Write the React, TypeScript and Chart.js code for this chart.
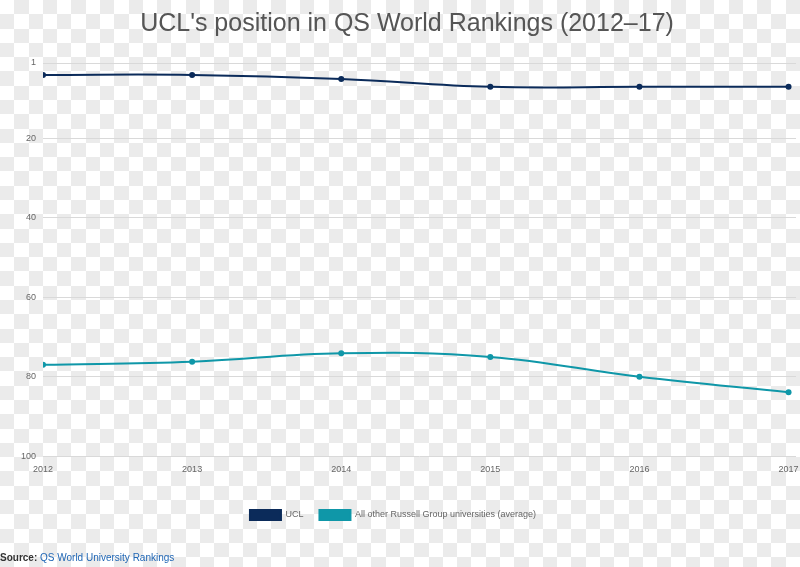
import React, { useEffect, useRef } from "react";
import { Chart, registerables } from "chart.js";

Chart.register(...registerables);

const years = [2012, 2013, 2014, 2015, 2016, 2017];
const uclRanks = [4, 4, 5, 7, 7, 7];
const russellRanks = [77, 76.2, 74.1, 75, 80, 83.9];
const yTicks = [1, 20, 40, 60, 80, 100];
const seriesNames = ["UCL", "All other Russell Group universities (average)"];
const titleText = "UCL's position in QS World Rankings (2012\u201317)";

const FONT = "'Liberation Sans', Arial, sans-serif";

const checkerPlugin = {
  id: "checker",
  beforeDraw(chart: any) {
    const { ctx, width, height } = chart;
    const cell = 800 / 56;
    ctx.save();
    ctx.fillStyle = "#ffffff";
    ctx.fillRect(0, 0, width, height);
    ctx.fillStyle = "#ebebeb";
    const cols = Math.ceil(width / cell);
    const rows = Math.ceil(height / cell);
    for (let r = 0; r < rows; r++) {
      for (let c = 0; c < cols; c++) {
        if ((r + c) % 2 === 1) {
          const x0 = Math.round(c * cell);
          const x1 = Math.round((c + 1) * cell);
          const y0 = Math.round(r * cell);
          const y1 = Math.round((r + 1) * cell);
          ctx.fillRect(x0, y0, x1 - x0, y1 - y0);
        }
      }
    }
    ctx.restore();
  },
};

const legendShiftPlugin = {
  id: "legendShift",
  afterLayout(chart: any) {
    if (chart.legend) {
      chart.legend.left -= 14;
      chart.legend.right -= 14;
    }
  },
};

export default function App() {
  const ref = useRef<HTMLCanvasElement | null>(null);

  useEffect(() => {
    if (!ref.current) return;
    const chart = new Chart(ref.current, {
      type: "line",
      data: {
        datasets: [
          {
            label: seriesNames[0],
            data: years.map((y, i) => ({ x: y, y: uclRanks[i] })),
            borderColor: "#0b2b5a",
            backgroundColor: "#0b2b5a",
            borderWidth: 2,
            pointRadius: 3,
            pointBorderWidth: 0,
            tension: 0.4,
          },
          {
            label: seriesNames[1],
            data: years.map((y, i) => ({ x: y, y: russellRanks[i] })),
            borderColor: "#0f97a8",
            backgroundColor: "#0f97a8",
            borderWidth: 2,
            pointRadius: 3,
            pointBorderWidth: 0,
            tension: 0.4,
          },
        ],
      },
      options: {
        animation: false,
        responsive: false,
        maintainAspectRatio: false,
        layout: { padding: { left: 14, right: 0, top: 0, bottom: 37 } },
        plugins: {
          tooltip: { enabled: false },
          title: {
            display: true,
            text: titleText,
            color: "#555555",
            font: { family: FONT, size: 25, weight: "normal" },
            padding: { top: 9, bottom: 24 },
          },
          legend: {
            position: "bottom",
            labels: {
              boxWidth: 31,
              boxHeight: 10,
              padding: 16,
              color: "#666666",
              font: { family: FONT, size: 9 },
            },
          },
        },
        scales: {
          x: {
            type: "linear",
            min: 2012,
            max: 2017.05,
            afterBuildTicks: (scale: any) => {
              scale.ticks = years.map((v) => ({ value: v }));
            },
            afterFit: (scale: any) => {
              scale.height = scale.height + 11;
              scale.paddingLeft = 0;
              scale.paddingRight = 0;
            },
            grid: { display: false, drawTicks: false },
            border: { display: false },
            ticks: {
              color: "#666666",
              font: { family: FONT, size: 9 },
              padding: 8,
              maxRotation: 0,
              autoSkip: false,
              callback: (v: any) => String(v),
            },
          },
          y: {
            type: "linear",
            reverse: true,
            min: 1,
            max: 100,
            afterBuildTicks: (scale: any) => {
              scale.ticks = yTicks.map((v) => ({ value: v }));
            },
            grid: { color: "#d9d9d9", drawTicks: false, lineWidth: 1 },
            border: { display: false },
            ticks: {
              color: "#666666",
              font: { family: FONT, size: 9 },
              padding: 7,
              autoSkip: false,
              callback: (v: any) => String(v),
            },
          },
        },
      },
      plugins: [checkerPlugin, legendShiftPlugin],
    });
    return () => chart.destroy();
  }, []);

  return (
    <div style={{ position: "absolute", left: 0, top: 0, width: 800, height: 567 }}>
      <canvas ref={ref} width={800} height={567} style={{ display: "block" }} />
      <div
        style={{
          position: "absolute",
          left: 0,
          top: 552,
          fontFamily: FONT,
          fontSize: 10,
          lineHeight: "12px",
          color: "#333333",
          whiteSpace: "nowrap",
        }}
      >
        <b>Source:</b> <span style={{ color: "#1f66b5" }}>QS World University Rankings</span>
      </div>
    </div>
  );
}
